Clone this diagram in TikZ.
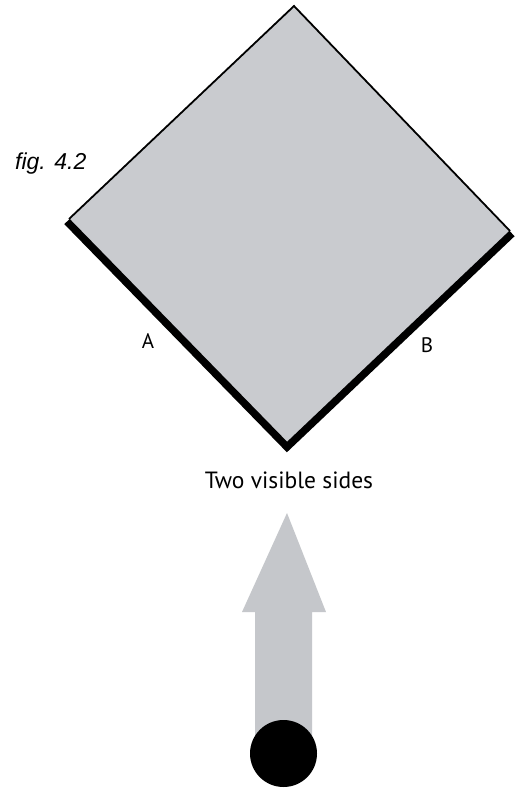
\documentclass[tikz,border=0pt]{standalone}
\usepackage{fontspec}
\setmainfont{PT Sans}
\newfontfamily\figfont{Liberation Sans}
\definecolor{panel}{RGB}{201,203,207}
\definecolor{arrowgray}{RGB}{197,199,203}
\begin{document}
\begin{tikzpicture}[x=1pt,y=-1pt,
  figlabel/.style={font=\figfont\itshape\fontsize{23}{26}\selectfont, inner sep=0pt},
  sidelabel/.style={font=\fontsize{21}{24}\selectfont, inner sep=0pt},
  caption/.style={font=\fontsize{23.5}{27}\selectfont, inner sep=0pt}]
\useasboundingbox (0,0) rectangle (520,788);
\fill[white] (0,0) rectangle (520,788);
% diamond corners
\coordinate (T) at (294,6);
\coordinate (L) at (69,219);
\coordinate (R) at (510,231);
\coordinate (Bt) at (287,444);
\fill[panel] (T) -- (R) -- (Bt) -- (L) -- cycle;
\draw[line width=1.8, line join=miter] (L) -- (T) -- (R);
\draw[line width=7.5, line join=miter] ([shift={(-2,2.5)}]L) -- ([shift={(0,3)}]Bt) -- ([shift={(2,2.5)}]R);
% labels
\node[figlabel, anchor=west] (fig) at (15,164) {fig. 4.2};
\node[sidelabel] (A) at (148,341) {A};
\node[sidelabel] (B) at (427,345) {B};
\node[caption] (cap) at (289,480) {Two visible sides};
% arrow
\coordinate (tip) at (287,513);
\fill[arrowgray] (tip) -- (326,612) -- (312,612) -- (312,745) -- (255,745) -- (255,612) -- (242,612) -- cycle;
\fill[black] (283.5,753.5) circle (33.5);
\end{tikzpicture}
\end{document}
